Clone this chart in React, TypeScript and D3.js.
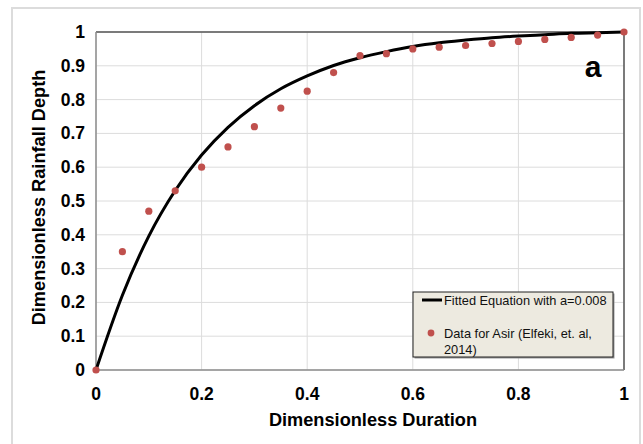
import React from "react";
import * as d3 from "d3";

// Observed dimensionless depth-duration points
const dataX = [0, 0.05, 0.1, 0.15, 0.2, 0.25, 0.3, 0.35, 0.4, 0.45, 0.5, 0.55, 0.6, 0.65, 0.7, 0.75, 0.8, 0.85, 0.9, 0.95, 1];
const dataY = [0, 0.35, 0.47, 0.53, 0.6, 0.66, 0.72, 0.775, 0.825, 0.88, 0.93, 0.936, 0.95, 0.955, 0.96, 0.966, 0.972, 0.978, 0.984, 0.991, 1];

// Fitted curve sampled along the duration axis
const fitX = [0, 0.05, 0.1, 0.15, 0.2, 0.25, 0.3, 0.35, 0.4, 0.45, 0.5, 0.55, 0.6, 0.65, 0.7, 0.75, 0.8, 0.85, 0.9, 0.95, 1];
const fitY = [0, 0.221, 0.396, 0.531, 0.636, 0.718, 0.782, 0.832, 0.87, 0.901, 0.924, 0.942, 0.957, 0.968, 0.976, 0.983, 0.988, 0.992, 0.996, 0.998, 1];

const xTicks = [0, 0.2, 0.4, 0.6, 0.8, 1];
const yTicks = [0, 0.1, 0.2, 0.3, 0.4, 0.5, 0.6, 0.7, 0.8, 0.9, 1];

const W = 643;
const H = 444;
const left = 96, right = 624, top = 32, bottom = 370;
const FONT = "'Liberation Sans', Arial, Helvetica, sans-serif";

export default function App() {
  const x = d3.scaleLinear().domain([0, 1]).range([left, right]);
  const y = d3.scaleLinear().domain([0, 1]).range([bottom, top]);
  const line = d3
    .line<number>()
    .x((_, i) => x(fitX[i]))
    .y((d) => y(d))
    .curve(d3.curveMonotoneX);

  return (
    <svg
      width={W}
      height={H}
      style={{ position: "absolute", left: 0, top: 0, background: "#fff" }}
      fontFamily={FONT}
    >
      {/* outer frame */}
      <rect x={12} y={8} width={628} height={446} fill="#fff" stroke="#dcdcdc" strokeWidth={2} />

      {/* gridlines */}
      {yTicks.map((t) => (
        <line key={"gy" + t} x1={left} x2={right} y1={y(t)} y2={y(t)} stroke="#dcdcdc" strokeWidth={1} />
      ))}
      {xTicks.map((t) => (
        <line key={"gx" + t} x1={x(t)} x2={x(t)} y1={top} y2={bottom} stroke="#dcdcdc" strokeWidth={1} />
      ))}

      {/* plot border */}
      <line x1={left} x2={right} y1={top} y2={top} stroke="#555" strokeWidth={1.5} />
      <line x1={right} x2={right} y1={top} y2={bottom} stroke="#555" strokeWidth={1.5} />
      <line x1={left} x2={left} y1={top} y2={bottom} stroke="#8c8c8c" strokeWidth={1.5} />
      <line x1={left} x2={right} y1={bottom} y2={bottom} stroke="#8c8c8c" strokeWidth={1.5} />

      {/* fitted curve */}
      <path d={line(fitY) || ""} fill="none" stroke="#000" strokeWidth={3} />

      {/* observed points */}
      {dataY.map((v, i) => (
        <circle key={"p" + i} cx={x(dataX[i])} cy={y(v)} r={3.6} fill="#C0504D" />
      ))}

      {/* tick labels */}
      {yTicks.map((t) => (
        <text key={"ty" + t} x={85} y={y(t) + 6} textAnchor="end" fontSize={17.5} fontWeight="bold" fill="#000">
          {String(t)}
        </text>
      ))}
      {xTicks.map((t) => (
        <text key={"tx" + t} x={x(t)} y={400} textAnchor="middle" fontSize={17.5} fontWeight="bold" fill="#000">
          {String(t)}
        </text>
      ))}

      {/* axis titles */}
      <text x={373} y={426} textAnchor="middle" fontSize={18.2} fontWeight="bold" fill="#000">
        Dimensionless Duration
      </text>
      <text
        transform="translate(45,197.5) rotate(-90)"
        textAnchor="middle"
        fontSize={18.2}
        fontWeight="bold"
        fill="#000"
      >
        Dimensionless Rainfall Depth
      </text>

      {/* panel label */}
      <text x={593} y={77} textAnchor="middle" fontSize={30} fontWeight="bold" fill="#000">
        a
      </text>

      {/* legend */}
      <rect x={414.5} y={293.5} width={200} height={65} fill="#999" />
      <rect x={413} y={292} width={200} height={65} fill="#EDEAE0" stroke="#222" strokeWidth={1} />
      <line x1={422} x2={442} y1={300} y2={300} stroke="#000" strokeWidth={3} />
      <text x={444} y={304.5} fontSize={12.8} fill="#111">
        Fitted Equation with a=0.008
      </text>
      <circle cx={431} cy={333} r={3.4} fill="#C0504D" />
      <text x={444} y={337.5} fontSize={12.8} fill="#111">
        Data for Asir (Elfeki, et. al,
      </text>
      <text x={444} y={353.5} fontSize={12.8} fill="#111">
        2014)
      </text>
    </svg>
  );
}
